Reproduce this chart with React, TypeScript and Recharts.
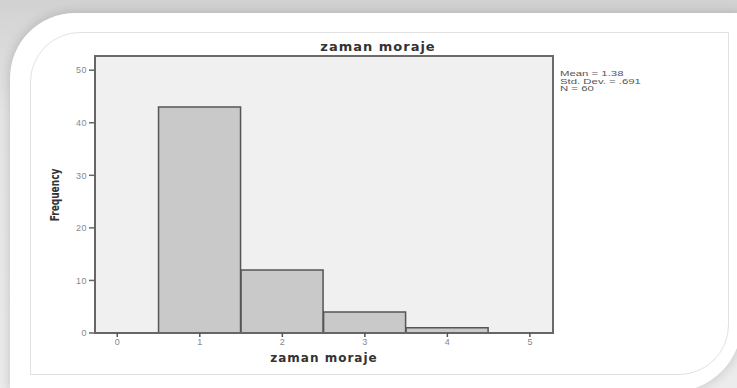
import React from 'react';
import { BarChart, Bar, XAxis, YAxis, CartesianGrid, ReferenceArea } from 'recharts';

const binCenters = [1, 2, 3, 4];
const frequencies = [43, 12, 4, 1];
const xTicks = [0, 1, 2, 3, 4, 5];
const yTicks = [0, 10, 20, 30, 40, 50];
const statsLines = ['Mean = 1.38', 'Std. Dev. = .691', 'N = 60'];
const chartTitle = 'zaman moraje';
const xLabel = 'zaman moraje';
const yLabel = 'Frequency';

const X_MIN = -0.27;
const X_MAX = 5.28;
const Y_MAX = 52.7;

const data = binCenters.map((x, i) => ({ x, f: frequencies[i] }));

export default function App() {
  return (
    <div
      style={{
        position: 'absolute',
        left: 0,
        top: 0,
        width: 737,
        height: 388,
        overflow: 'hidden',
        background: 'linear-gradient(180deg, #d2d2d2 0%, #e6e6e6 30%, #ececec 100%)',
      }}
    >
      <div
        style={{
          position: 'absolute',
          left: 10,
          top: 13,
          width: 732,
          height: 379,
          background: '#ffffff',
          borderTopLeftRadius: 65,
          borderBottomRightRadius: 70,
          boxShadow: '0 0 12px rgba(0,0,0,0.18)',
        }}
      />
      <div
        style={{
          position: 'absolute',
          left: 30,
          top: 32,
          width: 697,
          height: 341,
          border: '1px solid #e2e2e2',
          borderTopLeftRadius: 50,
          borderBottomRightRadius: 50,
        }}
      />
      <div style={{ position: 'absolute', left: 0, top: 0 }}>
        <BarChart
          width={737}
          height={388}
          data={data}
          margin={{ top: 56, right: 184, bottom: 25, left: 65 }}
          barCategoryGap={0}
        >
          <CartesianGrid horizontal={false} vertical={false} fill="#f0f0f0" />
          <XAxis
            dataKey="x"
            type="number"
            domain={[X_MIN, X_MAX]}
            allowDataOverflow
            ticks={xTicks}
            interval={0}
            height={30}
            tickSize={4}
            tickMargin={2}
            axisLine={{ stroke: '#666', strokeWidth: 2 }}
            tickLine={{ stroke: '#555', strokeWidth: 1.5 }}
            tick={{ fontSize: 9, fill: '#888', fontFamily: 'Liberation Sans' }}
          />
          <YAxis
            type="number"
            domain={[0, Y_MAX]}
            allowDataOverflow
            ticks={yTicks}
            interval={0}
            width={30}
            tickSize={6}
            tickMargin={2}
            axisLine={{ stroke: '#666', strokeWidth: 2 }}
            tickLine={{ stroke: '#666', strokeWidth: 1.5 }}
            tick={{ fontSize: 9, fill: '#888', fontFamily: 'Liberation Sans', letterSpacing: 0.5 }}
          />
          <Bar
            dataKey="f"
            barSize={82}
            fill="#c9c9c9"
            stroke="#555"
            strokeWidth={1.5}
            isAnimationActive={false}
          />
          <ReferenceArea
            x1={X_MIN}
            x2={X_MAX}
            y1={0}
            y2={Y_MAX}
            fill="none"
            fillOpacity={0}
            stroke="#6a6a6a"
            strokeWidth={2}
          />
        </BarChart>
      </div>
      <div
        style={{
          position: 'absolute',
          left: 278,
          top: 39,
          width: 200,
          textAlign: 'center',
          fontFamily: 'DejaVu Sans',
          fontWeight: 'bold',
          fontSize: 13,
          letterSpacing: 1,
          color: '#333',
          lineHeight: '16px',
        }}
      >
        {chartTitle}
      </div>
      <div
        style={{
          position: 'absolute',
          left: 224,
          top: 351,
          width: 200,
          textAlign: 'center',
          fontFamily: 'DejaVu Sans',
          fontWeight: 'bold',
          fontSize: 12,
          letterSpacing: 1,
          color: '#333',
          lineHeight: '15px',
        }}
      >
        {xLabel}
      </div>
      <div
        style={{
          position: 'absolute',
          left: 55,
          top: 195,
          width: 100,
          marginLeft: -50,
          marginTop: -7,
          textAlign: 'center',
          fontFamily: 'DejaVu Sans',
          fontWeight: 'bold',
          fontSize: 9,
          color: '#333',
          lineHeight: '14px',
          transform: 'rotate(-90deg) scaleY(1.4)',
        }}
      >
        {yLabel}
      </div>
      <div
        style={{
          position: 'absolute',
          left: 560,
          top: 70,
          fontFamily: 'Liberation Sans',
          fontSize: 8,
          lineHeight: '7.6px',
          color: '#555',
          transform: 'scaleX(1.42)',
          transformOrigin: 'left top',
          whiteSpace: 'nowrap',
        }}
      >
        {statsLines.map((s) => (
          <div key={s}>{s}</div>
        ))}
      </div>
    </div>
  );
}
